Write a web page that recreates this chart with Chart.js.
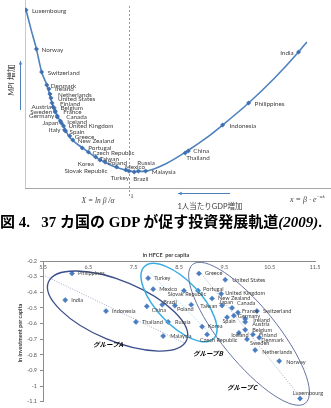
<!DOCTYPE html>
<html><head><meta charset="utf-8">
<script src="https://cdn.jsdelivr.net/npm/chart.js@4.4.1/dist/chart.umd.min.js"></script>
<style>
html,body{margin:0;padding:0;background:#fff;}
#wrap{position:relative;width:331px;height:408px;overflow:hidden;font-family:Lato,"Noto Sans CJK JP",sans-serif;}
#c1{position:absolute;left:0;top:0;}
#c2{position:absolute;left:0;top:245px;}
.t{position:absolute;white-space:nowrap;line-height:1;}
.rot{transform:translate(-50%,-50%) rotate(-90deg);}
.ctr{transform:translate(-50%,-50%);}
</style></head><body><div id="wrap">
<canvas id="c1" width="331" height="205"></canvas>
<canvas id="c2" width="331" height="163"></canvas>
<div class="t rot" style="left:11px;top:80px;font-size:8px;color:#404040"><i>MPI</i> 増加</div>
<div class="t ctr" style="left:98px;top:200px;font:italic 7.5px 'Liberation Serif';color:#404040">X = ln <i>β</i> /<i>α</i></div>
<div class="t ctr" style="left:132px;top:196px;font:7px 'Liberation Serif';color:#404040">1</div>
<div class="t ctr" style="left:210px;top:207px;font-size:7.5px;color:#404040">1人当たりGDP増加</div>
<div class="t" style="left:290px;top:194px;font:italic 8px 'Liberation Serif';color:#404040">x = β · e<sup style="font-size:5px">−αk</sup></div>
<div class="t" style="left:0px;top:210px;font:700 15px 'Liberation Serif','Noto Sans CJK JP';color:#000">図 4.&nbsp;&nbsp;&nbsp;37 カ国の GDP が促す投資発展軌道<i>(2009)</i>.</div>
<div class="t ctr" style="left:166px;top:255px;font:700 5.5px Lato;color:#404040">ln HFCE&nbsp; per capita</div>
<div class="t rot" style="left:20px;top:333px;font:700 5.5px Lato;color:#404040">ln investment per capita</div>
<div class="t ctr" style="left:108px;top:344px;font:italic 700 6.5px 'Noto Sans CJK JP';color:#000">グループA</div>
<div class="t ctr" style="left:208px;top:353px;font:italic 700 6.5px 'Noto Sans CJK JP';color:#000">グループB</div>
<div class="t ctr" style="left:242px;top:387px;font:italic 700 6.5px 'Noto Sans CJK JP';color:#000">グループC</div>
</div>
<script>
// ---------- DATA: top chart (investment development trajectory) ----------
const topCountries = ['Luxembourg','Norway','Switzerland','Denmark','Ireland','Netherlands','United States','Finland','Belgium','Austria','France','Sweden','Canada','Germany','Iceland','Japan','United Kingdom','Italy','Spain','Greece','New Zealand','Portugal','Czech Republic','Taiwan','Korea','Poland','Slovak Republic','Mexico','Turkey','Brazil','Russia','Malaysia','Thailand','China','Indonesia','Philippines','India'];
const topX = [0.01,0.11,0.16,0.21,0.23,0.24,0.25,0.26,0.27,0.28,0.29,0.29,0.31,0.31,0.34,0.35,0.37,0.38,0.39,0.43,0.46,0.55,0.61,0.68,0.72,0.77,0.88,0.97,1.00,1.05,1.09,1.16,1.54,1.57,1.90,2.15,2.63];
const topY = [9.47,7.39,6.17,5.48,5.27,5.00,4.79,4.52,4.31,4.26,4.10,4.04,3.83,3.78,3.56,3.46,3.30,3.09,3.03,2.77,2.55,2.13,1.91,1.65,1.49,1.38,1.12,0.96,0.90,0.85,0.90,0.90,1.86,1.97,3.35,4.52,7.23];
const curveX = [0.01,0.06,0.11,0.16,0.21,0.26,0.31,0.37,0.42,0.49,0.57,0.69,0.82,0.93,1.04,1.16,1.35,1.56,1.73,1.90,2.15,2.40,2.63,2.71];
const curveY = [9.47,8.40,7.39,6.17,5.48,4.52,3.83,3.30,2.77,2.39,2.07,1.60,1.22,1.01,0.88,0.90,1.28,1.97,2.61,3.35,4.52,5.85,7.23,7.77];

// ---------- DATA: bottom chart (ln HFCE vs ln investment per capita) ----------
const botCountries = ['Philippines','India','Indonesia','China','Thailand','Malaysia','Russia','Turkey','Mexico','Brazil','Slovak Republic','Poland','Taiwan','Korea','Czech Republic','Greece','United States','Portugal','United Kingdom','New Zealand','Japan','Canada','France','Switzerland','Germany','Spain','Ireland','Austria','Belgium','Iceland','Finland','Denmark','Sweden','Netherlands','Norway','Luxembourg'];
const botX = [6.14,5.99,6.89,7.79,7.55,8.15,8.26,7.82,7.93,8.13,8.61,8.41,8.77,9.01,9.12,8.94,9.52,8.92,9.43,9.23,9.45,9.67,9.80,10.22,9.71,9.56,9.96,9.96,9.96,9.82,10.13,10.27,10.00,10.18,10.71,11.17];
const botY = [-0.28,-0.45,-0.52,-0.49,-0.59,-0.68,-0.59,-0.31,-0.38,-0.48,-0.39,-0.485,-0.48,-0.62,-0.67,-0.28,-0.32,-0.39,-0.41,-0.44,-0.485,-0.50,-0.53,-0.52,-0.55,-0.56,-0.57,-0.59,-0.64,-0.66,-0.67,-0.69,-0.70,-0.77,-0.84,-1.08];
const xTicks = [5.5,6.5,7.5,8.5,9.5,10.5,11.5];
const yTicks = [-0.2,-0.3,-0.4,-0.5,-0.6,-0.7,-0.8,-0.9,-1.0,-1.1];
const groupNames = ['グループA','グループB','グループC'];
// group ellipses: major-axis end points (data units)
const groupEllipseEnds = [[[5.62,-0.335],[8.67,-0.705]],[[7.74,-0.235],[9.26,-0.697]],[[8.80,-0.222],[11.29,-1.109]]];
// group trend lines (data units)
const groupTrendEnds = [[[5.5,-0.289],[8.63,-0.726]],[[7.86,-0.276],[9.18,-0.663]],[[8.96,-0.270],[11.17,-1.068]]];

// ---------- label placement (styles, not data) ----------
const topPlace = {
 'Luxembourg':[6,1,'l'],'Norway':[5,0.5,'l'],'Switzerland':[6,0.5,'l'],'Denmark':[4,0.5,'l'],'Ireland':[6,0.5,'l'],
 'Netherlands':[8,0.5,'l'],'United States':[7,1,'l'],'Finland':[8,0.5,'l'],'Belgium':[7.5,1,'l'],'France':[8,1,'l'],
 'Canada':[9,1,'l'],'Iceland':[7,0.5,'l'],'United Kingdom':[5,0.5,'l'],'Spain':[4,0.5,'l'],'Greece':[5,1,'l'],
 'New Zealand':[5,1,'l'],'Portugal':[6,0.5,'l'],'Czech Republic':[4,1,'l'],'Taiwan':[4,1.5,'l'],'Poland':[3,1,'l'],
 'Austria':[-3,-0.5,'r'],'Sweden':[-3,-0.5,'r'],'Germany':[-3,-0.5,'r'],'Japan':[-3,0,'r'],'Italy':[-4,0,'r'],
 'Korea':[-6,4,'r'],'Slovak Republic':[-9,4,'r'],'Mexico':[-1,-2.5,'l'],'Turkey':[0,7,'r'],'Brazil':[-1,7,'l'],
 'Russia':[-1,-8,'l'],'Malaysia':[6,0.5,'l'],'Thailand':[1,5,'l'],'China':[5,0,'l'],'Indonesia':[7,0.5,'l'],
 'Philippines':[6,0.5,'l'],'India':[-5,1,'r']
};
const botPlace = {
 'Slovak Republic':[3,3,'c'],'Brazil':[1,-3,'l'],'Japan':[-3,-3,'l'],'Canada':[5,-5,'l'],'France':[4,-1,'l'],
 'Germany':[4,0,'l'],'Spain':[2,4,'c'],'Iceland':[1,2.5,'c'],'Ireland':[8,1,'l'],'Austria':[7,2,'l'],'Belgium':[7,0,'l'],
 'Finland':[6,1,'l'],'Denmark':[2,2.5,'l'],'Sweden':[3,4,'l'],'Netherlands':[7,2,'l'],'Norway':[7,1,'l'],
 'Luxembourg':[8,-5,'c'],'Czech Republic':[-7,6,'l'],'Malaysia':[7,0,'l'],'Korea':[6,0,'l'],'Russia':[7,0,'l'],
 'China':[5,4,'l'],'Poland':[2,4,'l'],'Taiwan':[9,1,'l'],'United States':[7,0,'l'],'Portugal':[5,-2,'l'],
 'United Kingdom':[4,-1,'l']
};

function labelPlugin(id, place, font, color, def){
  return { id, afterDatasetsDraw(chart){
    const ctx = chart.ctx;
    chart.data.datasets.forEach((ds,di)=>{
      if(!ds.names) return;
      const meta = chart.getDatasetMeta(di);
      ctx.save(); ctx.font = font; ctx.fillStyle = color; ctx.textBaseline = 'middle';
      meta.data.forEach((el,i)=>{
        const n = ds.names[i]; const p = place[n] || def;
        ctx.textAlign = p[2]==='r' ? 'right' : (p[2]==='c' ? 'center' : 'left');
        ctx.fillText(n, el.x + p[0], el.y + p[1]);
      });
      ctx.restore();
    });
  }};
}

Chart.defaults.font.family = 'Lato';
const blue = '#4F81BD';

// ---------- top chart ----------
function arrow(ctx, x1,y1,x2,y2){
  ctx.beginPath(); ctx.moveTo(x1,y1); ctx.lineTo(x2,y2); ctx.stroke();
  const a = Math.atan2(y2-y1,x2-x1), h=4;
  ctx.beginPath(); ctx.moveTo(x2,y2);
  ctx.lineTo(x2-h*Math.cos(a-0.45), y2-h*Math.sin(a-0.45));
  ctx.lineTo(x2-h*Math.cos(a+0.45), y2-h*Math.sin(a+0.45)); ctx.closePath(); ctx.fill();
}
const topDeco = { id:'topDeco', beforeDatasetsDraw(chart){
  const {ctx, chartArea:a, scales:{x}} = chart;
  ctx.save(); ctx.lineWidth = 1;
  ctx.strokeStyle = '#c8c8c8';
  ctx.beginPath(); ctx.moveTo(a.left+0.5, a.top); ctx.lineTo(a.left+0.5, a.bottom); ctx.stroke();
  ctx.strokeStyle = '#a6a6a6';
  ctx.beginPath(); ctx.moveTo(a.left, a.bottom+0.5); ctx.lineTo(a.right, a.bottom+0.5); ctx.stroke();
  const px = Math.round(x.getPixelForValue(1)) + 0.5;
  ctx.setLineDash([2,2]); ctx.strokeStyle = '#9a9a9a';
  ctx.beginPath(); ctx.moveTo(px, a.top+6); ctx.lineTo(px, a.bottom+9); ctx.stroke();
  ctx.setLineDash([]);
  ctx.strokeStyle = blue; ctx.fillStyle = blue;
  arrow(ctx, 20.5, 110, 20.5, 61);
  arrow(ctx, 230, 193.5, 178, 193.5);
  ctx.restore();
}};

new Chart(document.getElementById('c1'), {
  type:'scatter',
  data:{ datasets:[
    { data: topX.map((v,i)=>({x:v,y:topY[i]})), names: topCountries, order:0,
      pointStyle:'rectRot', pointRadius:2.2, backgroundColor:'#3E6FB0', borderColor:'#3E6FB0', borderWidth:0.5 },
    { data: curveX.map((v,i)=>({x:v,y:curveY[i]})), showLine:true, order:1, pointRadius:0,
      borderColor:blue, borderWidth:1.6, tension:0.4, cubicInterpolationMode:'monotone' }
  ]},
  options:{ responsive:false, animation:false, events:[],
    layout:{ autoPadding:false, padding:{left:25, right:0, top:0, bottom:17} },
    scales:{ x:{ display:false, min:0, max:2.942 }, y:{ display:false, min:0, max:10 } },
    plugins:{ legend:{display:false}, tooltip:{enabled:false} } },
  plugins:[topDeco, labelPlugin('topLabels', topPlace, '6.3px Lato', '#404040', [5,0.5,'l'])]
});

// ---------- bottom chart ----------
const ellColors = ['#3B4F8C','#3AAEE3','#66739F'];
const ellWidths = [1.3,1.5,1.0];
const ellRatio = [0.40,0.44,0.31];
const groupDeco = { id:'groupDeco', afterDatasetsDraw(chart){
  const {ctx, scales:{x,y}} = chart;
  ctx.save();
  groupEllipseEnds.forEach((e,i)=>{
    const x1=x.getPixelForValue(e[0][0]), y1=y.getPixelForValue(e[0][1]);
    const x2=x.getPixelForValue(e[1][0]), y2=y.getPixelForValue(e[1][1]);
    const cx=(x1+x2)/2, cy=(y1+y2)/2, ra=Math.hypot(x2-x1,y2-y1)/2, ang=Math.atan2(y2-y1,x2-x1);
    ctx.strokeStyle = ellColors[i]; ctx.lineWidth = ellWidths[i];
    ctx.beginPath(); ctx.ellipse(cx,cy,ra,ra*ellRatio[i],ang,0,Math.PI*2); ctx.stroke();
  });
  ctx.restore();
}};

const trendColors = ['#8a96b8','#7fcdef','#8f9ac0'];
const trendSets = groupTrendEnds.map((t,i)=>({
  data: t.map(p=>({x:p[0],y:p[1]})), showLine:true, pointRadius:0, order:2,
  borderColor: trendColors[i], borderWidth:0.8, borderDash:[1,1.5]
}));

new Chart(document.getElementById('c2'), {
  type:'scatter',
  data:{ datasets:[
    { data: botX.map((v,i)=>({x:v,y:botY[i]})), names: botCountries, order:0,
      pointStyle:'rectRot', pointRadius:2.6, backgroundColor:'#4A7CC0', borderColor:'#4A7CC0', borderWidth:0.5 },
    ...trendSets
  ]},
  options:{ responsive:false, animation:false, events:[],
    layout:{ autoPadding:false, padding:{left:0, right:16, top:6, bottom:5} },
    scales:{
      x:{ type:'linear', position:'top', min:5.5, max:11.5,
          afterFit(s){ s.height = 10; },
          afterBuildTicks(s){ s.ticks = xTicks.map(v=>({value:v})); },
          grid:{ display:false, drawTicks:false },
          border:{ display:true, color:'#8c8c8c', width:1 },
          ticks:{ mirror:true, padding:2.5, font:{size:5.5}, color:'#595959', maxRotation:0, autoSkip:false,
                  callback:v=>Number(v).toFixed(1) } },
      y:{ type:'linear', min:-1.1, max:-0.2,
          afterFit(s){ s.width = 43; },
          afterBuildTicks(s){ s.ticks = yTicks.map(v=>({value:v})); },
          grid:{ display:true, drawOnChartArea:false, drawTicks:true, tickLength:3, color:'#8c8c8c' },
          border:{ display:true, color:'#8c8c8c', width:1 },
          ticks:{ padding:3, font:{size:5.5}, color:'#595959', autoSkip:false,
                  callback:v=>String(Number(Number(v).toFixed(1))) } }
    },
    plugins:{ legend:{display:false}, tooltip:{enabled:false} } },
  plugins:[groupDeco, labelPlugin('botLabels', botPlace, '5.6px Lato', '#404040', [6,0,'l'])]
});
</script>
</body></html>
